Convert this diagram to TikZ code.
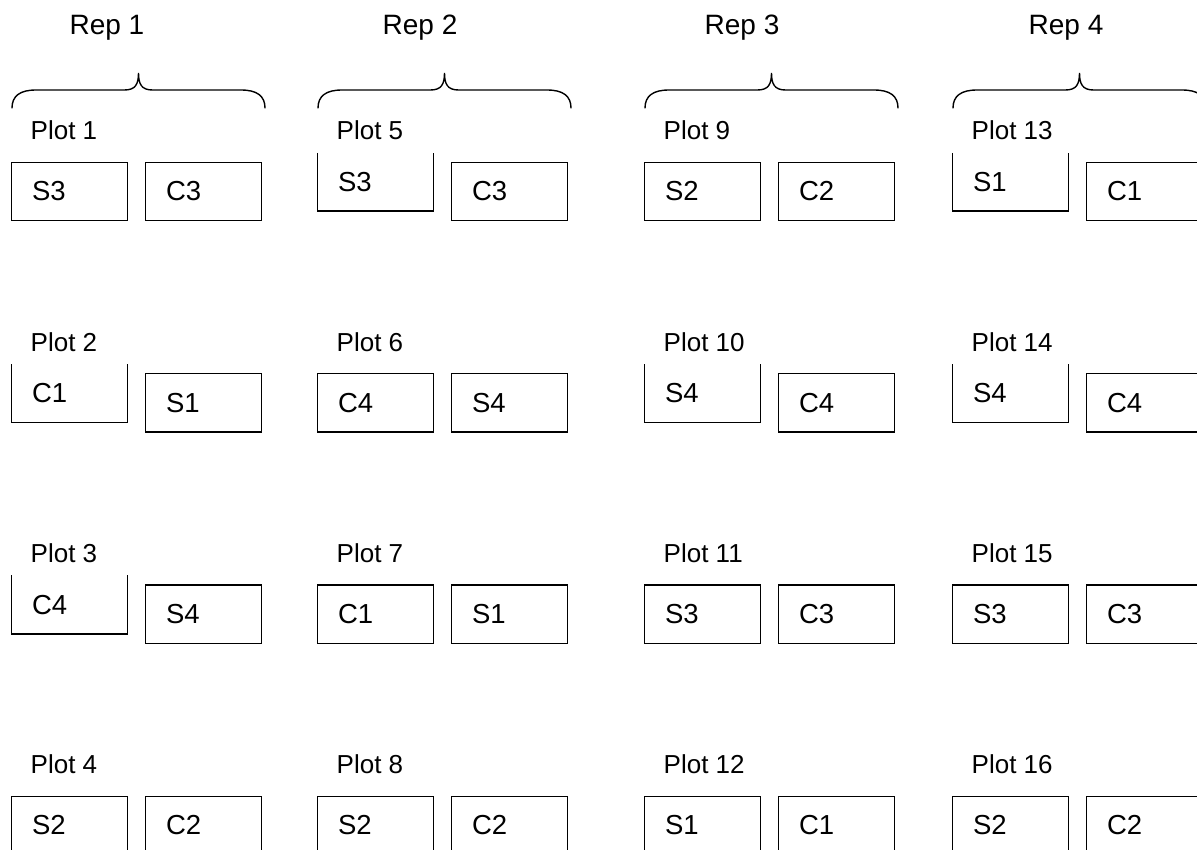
\documentclass[tikz,border=0pt]{standalone}
\usepackage{fontspec}
\setmainfont{Liberation Sans}
\begin{document}
\begin{tikzpicture}[x=1pt,y=-1pt,line width=1.4pt,
  cell/.style={rectangle,draw=none,minimum height=57pt,text width=75pt,inner xsep=20pt,inner ysep=0pt,align=left,font=\fontsize{27.5}{31}\selectfont},
  plotlbl/.style={anchor=base west,inner sep=0pt,font=\fontsize{26}{30}\selectfont},
  replbl/.style={anchor=base,inner sep=0pt,font=\fontsize{28}{32}\selectfont},
  bracestyle/.style={line width=1.4pt,line cap=round}]
\useasboundingbox (0,0) rectangle (1197,850);
\clip (0,0) rectangle (1197,850);
% Rep labels and braces
\foreach \k/\L/\rx in {1/12/107,2/318/420,3/645/742,4/953/1066}{
  \node[replbl] (rep\k) at (\rx,35) {Rep \k};
  \pgfmathsetmacro\T{\L+126.5}
  \pgfmathsetmacro\R{\L+253}
  \draw[bracestyle] (\L,108) .. controls (\L,96) and (\L+8,90) .. (\L+24,90) -- (\T-14,90)
     .. controls (\T-3,90) and (\T,84) .. (\T,73)
     .. controls (\T,84) and (\T+3,90) .. (\T+14,90) -- (\R-24,90)
     .. controls (\R-8,90) and (\R,96) .. (\R,108);
}
% Plots
\foreach \n/\L/\r/\a/\ao/\b in {
1/12/0/S3/0/C3, 2/12/1/C1/1/S1, 3/12/2/C4/1/S4, 4/12/3/S2/0/C2,
5/318/0/S3/1/C3, 6/318/1/C4/0/S4, 7/318/2/C1/0/S1, 8/318/3/S2/0/C2,
9/645/0/S2/0/C2, 10/645/1/S4/1/C4, 11/645/2/S3/0/C3, 12/645/3/S1/0/C1,
13/953/0/S1/1/C1, 14/953/1/S4/1/C4, 15/953/2/S3/0/C3, 16/953/3/S2/0/C2}{
  \pgfmathsetmacro\yy{211.3*\r}
  \node[plotlbl] (p\n) at (\L+18,140+\yy) {Plot \n};
  \node[cell] (l\n) at (\L+57.5,191.5-9.5*\ao+\yy) {\a};
  \node[cell] (r\n) at (\L+134+57.5,191.5+\yy) {\b};
  \ifnum\ao=1
    \draw (l\n.north west) -- (l\n.south west) -- (l\n.south east) -- (l\n.north east);
  \else
    \draw (l\n.north west) rectangle (l\n.south east);
  \fi
  \draw (r\n.north west) rectangle (r\n.south east);
}
\end{tikzpicture}
\end{document}
